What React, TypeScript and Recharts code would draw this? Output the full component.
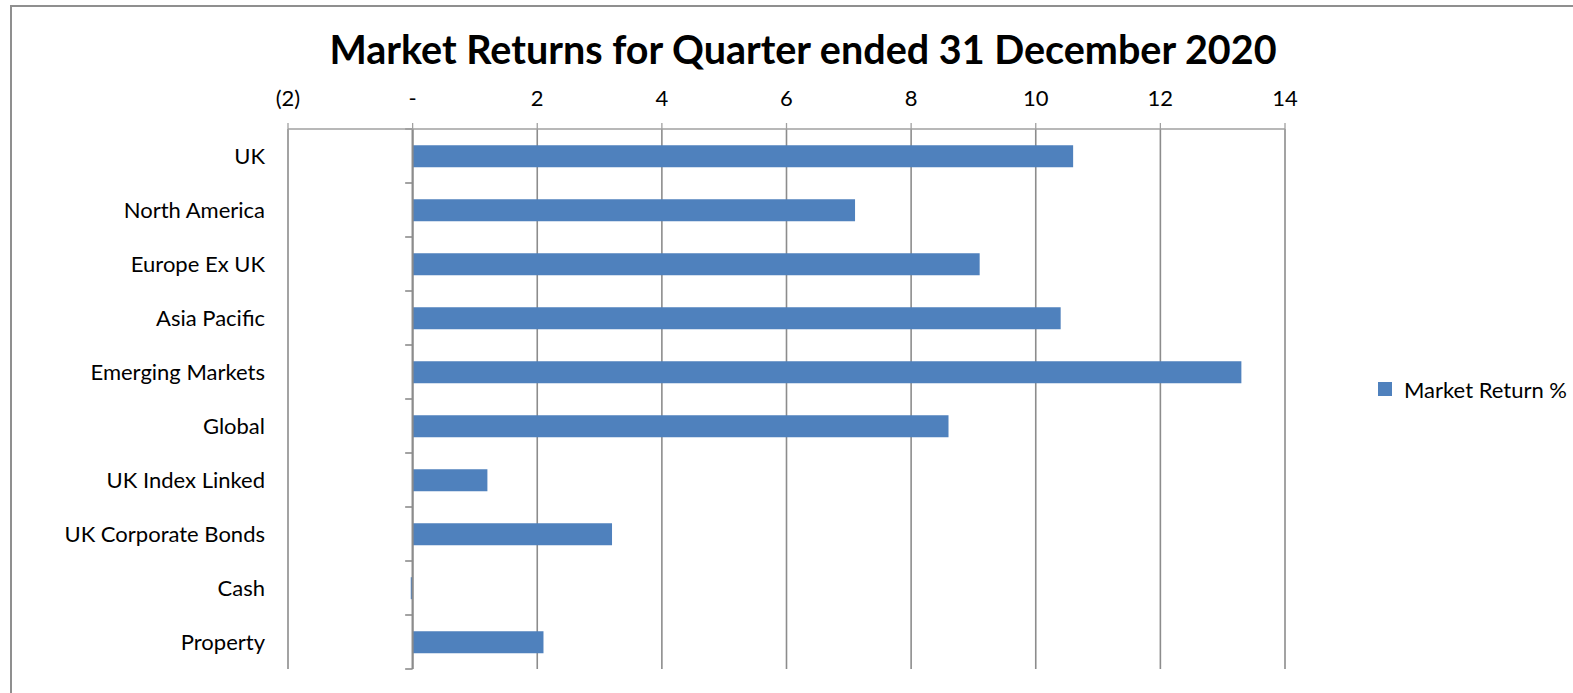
import React from "react";
import {
  BarChart,
  Bar,
  XAxis,
  YAxis,
  CartesianGrid,
  ReferenceLine,
  ReferenceArea,
} from "recharts";

const categories = [
  "UK",
  "North America",
  "Europe Ex UK",
  "Asia Pacific",
  "Emerging Markets",
  "Global",
  "UK Index Linked",
  "UK Corporate Bonds",
  "Cash",
  "Property",
];
const marketReturn = [10.6, 7.1, 9.1, 10.4, 13.3, 8.6, 1.2, 3.2, -0.03, 2.1];
const xTicks = [-2, 0, 2, 4, 6, 8, 10, 12, 14];
const seriesName = "Market Return %";
const title = "Market Returns for Quarter ended 31 December 2020";

const data = categories.map((name, i) => ({ name, value: marketReturn[i] }));

const FONT = "Lato, 'Noto Sans', sans-serif";
const GRID = "#8c8c8c";
const BLUE = "#4f81bd";

const fmt = (v: number) => (v === 0 ? "-" : v < 0 ? `(${Math.abs(v)})` : `${v}`);

export default function App() {
  return (
    <div style={{ position: "absolute", left: 0, top: 0, width: 1573, height: 693, overflow: "hidden", background: "#fff" }}>
      <div
        style={{
          position: "absolute",
          left: 10,
          top: 5,
          width: 1700,
          height: 900,
          borderLeft: "2px solid #8f8f8f",
          borderTop: "2px solid #8f8f8f",
        }}
      />
      <div
        style={{
          position: "absolute",
          left: 0,
          top: 25,
          width: 1606,
          textAlign: "center",
          fontFamily: FONT,
          fontWeight: 700,
          fontSize: 39.5,
          lineHeight: "48px",
          color: "#000",
          whiteSpace: "nowrap",
        }}
      >
        {title}
      </div>
      <div style={{ position: "absolute", left: 0, top: 0 }}>
        <BarChart
          width={1573}
          height={693}
          data={data}
          layout="vertical"
          margin={{ top: 99, right: 288, bottom: 24, left: 0 }}
          barCategoryGap="30%"
        >
          <CartesianGrid horizontal={false} vertical stroke={GRID} strokeWidth={1.6} />
          <XAxis
            type="number"
            orientation="top"
            domain={[-2, 14]}
            ticks={xTicks}
            tickFormatter={fmt}
            height={30}
            tickSize={6}
            tickMargin={17}
            axisLine={{ stroke: "#a0a0a0", strokeWidth: 1.3 }}
            tickLine={{ stroke: "#a0a0a0", strokeWidth: 1.3 }}
            tick={{ fill: "#000", fontFamily: FONT, fontSize: 22 }}
            allowDataOverflow
          />
          <YAxis
            type="category"
            dataKey="name"
            width={288}
            axisLine={false}
            tickLine={false}
            tickSize={0}
            tickMargin={23}
            interval={0}
            tick={{ fill: "#000", fontFamily: FONT, fontSize: 22 }}
          />
          {categories.map((c, i) => (
            <ReferenceArea
              key={c}
              x1={-0.12}
              x2={0}
              y1={c}
              y2={c}
              ifOverflow="visible"
              shape={(p: any) => (
                <g>
                  <line x1={p.x} x2={p.x + p.width} y1={p.y} y2={p.y} stroke={GRID} strokeWidth={1.6} />
                  {i === categories.length - 1 && (
                    <line
                      x1={p.x}
                      x2={p.x + p.width}
                      y1={p.y + p.height}
                      y2={p.y + p.height}
                      stroke={GRID}
                      strokeWidth={1.6}
                    />
                  )}
                </g>
              )}
            />
          ))}
          <Bar dataKey="value" name={seriesName} fill={BLUE} isAnimationActive={false} />
          <ReferenceLine x={0} stroke={GRID} strokeWidth={2} ifOverflow="visible" />
        </BarChart>
      </div>
      <div
        style={{
          position: "absolute",
          left: 1378,
          top: 374,
          height: 30,
          display: "flex",
          alignItems: "center",
          fontFamily: FONT,
          fontSize: 22,
          color: "#000",
          whiteSpace: "nowrap",
        }}
      >
        <span style={{ display: "inline-block", width: 14, height: 14, background: BLUE, marginRight: 12 }} />
        <span>{seriesName}</span>
      </div>
    </div>
  );
}
